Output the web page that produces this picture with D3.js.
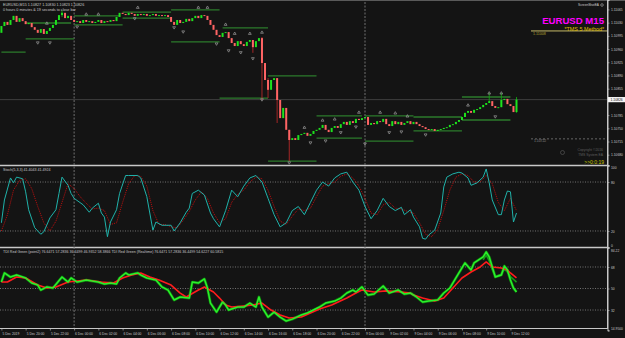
<!DOCTYPE html>
<html>
<head>
<meta charset="utf-8">
<script src="https://cdn.jsdelivr.net/npm/d3@7"></script>
<style>
  html, body { margin: 0; padding: 0; background: #141414; }
  svg { display: block; }
  text { font-family: 'Liberation Sans', Arial, sans-serif; }
</style>
</head>
<body>
<svg width="625" height="338"></svg>
<script>
// EURUSD M15, one close per bar, bar 0 = 5 Dec 18:00
const firstOpen = 1.11003
const closes = [
  1.11021, 1.11032, 1.11024, 1.11037, 1.11048, 1.11032, 1.11042, 1.11034, 1.11026, 1.11029,
  1.11018, 1.11011, 1.11003, 1.11013, 1.11000, 1.11008, 1.11016, 1.11024, 1.11037, 1.11050,
  1.11056, 1.11042, 1.11048, 1.11037, 1.11032, 1.11034, 1.11029, 1.11037, 1.11032, 1.11034,
  1.11029, 1.11032, 1.11037, 1.11029, 1.11034, 1.11032, 1.11037, 1.11034, 1.11045, 1.11056,
  1.11053, 1.11050, 1.11056, 1.11053, 1.11048, 1.11053, 1.11050, 1.11053, 1.11048, 1.11050,
  1.11053, 1.11048, 1.11050, 1.11048, 1.11050, 1.11045, 1.11032, 1.11024, 1.11037, 1.11029,
  1.11032, 1.11040, 1.11034, 1.11042, 1.11048, 1.11042, 1.11050, 1.11048, 1.11037, 1.11024,
  1.11011, 1.10997, 1.10992, 1.11003, 1.11005, 1.10989, 1.10976, 1.10968, 1.10981, 1.10973,
  1.10968, 1.10979, 1.10984, 1.10965, 1.10981, 1.10989, 1.10923, 1.10878, 1.10852, 1.10878,
  1.10883, 1.10825, 1.10777, 1.10804, 1.10746, 1.10719, 1.10724, 1.10719, 1.10732, 1.10735,
  1.10738, 1.10730, 1.10735, 1.10743, 1.10746, 1.10751, 1.10759, 1.10746, 1.10740, 1.10751,
  1.10756, 1.10751, 1.10761, 1.10767, 1.10759, 1.10769, 1.10764, 1.10775, 1.10772, 1.10777,
  1.10780, 1.10759, 1.10764, 1.10761, 1.10769, 1.10767, 1.10775, 1.10761, 1.10756, 1.10769,
  1.10761, 1.10767, 1.10759, 1.10764, 1.10769, 1.10761, 1.10767, 1.10761, 1.10756, 1.10753,
  1.10748, 1.10746, 1.10748, 1.10743, 1.10746, 1.10748, 1.10751, 1.10753, 1.10759, 1.10761,
  1.10767, 1.10772, 1.10780, 1.10791, 1.10796, 1.10791, 1.10799, 1.10801, 1.10806, 1.10812,
  1.10817, 1.10822, 1.10809, 1.10804, 1.10806, 1.10825, 1.10828, 1.10814, 1.10809, 1.10793,
  1.10826
]
// [bar, high, low] where the wick shows
const wicks = [
  [20, 1.11064, 1.11045], [83, 1.10976, 1.10950], [86, 1.10992, 1.10825], [88, 1.10883, 1.10830],
  [91, 1.10883, 1.10764], [95, 1.10746, 1.10663], [161, 1.10844, 1.10817], [165, 1.10844, 1.10806],
  [170, 1.10833, 1.10791]
]
// [fromBar, toBar, price]
const levels = [
  [0, 8, 1.10952], [8, 23, 1.11029], [8, 24, 1.10987], [24, 39, 1.11048], [24, 40, 1.11024],
  [40, 56, 1.11058], [40, 56, 1.11042], [56, 72, 1.11064], [56, 72, 1.10979], [73, 88, 1.11016],
  [72, 88, 1.10830], [88, 104, 1.10889], [88, 104, 1.10663], [104, 119, 1.10783], [104, 119, 1.10724],
  [120, 136, 1.10783], [120, 136, 1.10716], [136, 152, 1.10780], [136, 152, 1.10743],
  [152, 168, 1.10833], [152, 168, 1.10772]
]
const fractalUp = [
  [15, 1.11029], [28, 1.11053], [32, 1.11053], [45, 1.11071], [65, 1.11071], [68, 1.11071],
  [74, 1.11026], [77, 1.11002], [82, 1.11002], [86, 1.11005], [100, 1.10753], [106, 1.10772],
  [110, 1.10775], [118, 1.10793], [125, 1.10793], [130, 1.10791], [134, 1.10783], [154, 1.10812],
  [161, 1.10844], [165, 1.10844]
]
const fractalDown = [
  [12, 1.10976], [16, 1.10976], [25, 1.11018], [44, 1.11040], [57, 1.11016], [60, 1.11005],
  [71, 1.10973], [75, 1.10955], [79, 1.10950], [83, 1.10934], [86, 1.10825], [95, 1.10658],
  [102, 1.10711], [107, 1.10716], [112, 1.10738], [117, 1.10753], [120, 1.10708], [128, 1.10738],
  [132, 1.10740], [140, 1.10732], [163, 1.10780]
]
const priceTicks = [1.11065, 1.11030, 1.10995, 1.10960, 1.10925, 1.10890, 1.10855, 1.10785, 1.10750, 1.10715, 1.10680]
const bid = 1.10826

// [bar, value]
const stochMain = [
  [0, 30], [1, 58], [3, 85], [4, 79], [5, 86], [7, 84], [8, 68], [9, 46], [11, 24], [13, 16],
  [14, 19], [16, 36], [18, 46], [19, 66], [20, 86], [22, 76], [23, 66], [24, 60], [27, 52], [29, 43],
  [30, 48], [32, 54], [33, 42], [34, 37], [35, 13], [36, 31], [38, 46], [39, 66], [41, 88], [42, 88],
  [45, 88], [46, 85], [48, 62], [50, 21], [51, 31], [53, 27], [56, 27], [57, 20], [59, 30], [61, 43],
  [62, 48], [63, 66], [65, 70], [67, 64], [69, 42], [70, 35], [72, 25], [74, 45], [76, 70], [78, 62],
  [80, 75], [82, 85], [84, 88], [86, 80], [88, 60], [90, 40], [92, 25], [94, 30], [96, 45], [98, 50],
  [100, 40], [102, 55], [104, 70], [106, 80], [108, 75], [110, 85], [112, 90], [114, 92], [116, 80],
  [118, 70], [120, 50], [122, 35], [124, 45], [126, 60], [128, 50], [130, 45], [132, 49], [133, 40],
  [135, 46], [136, 37], [138, 25], [139, 11], [140, 10], [141, 15], [143, 21], [145, 42], [146, 74],
  [147, 86], [149, 90], [151, 92], [152, 91], [154, 85], [155, 76], [157, 79], [159, 86], [160, 96],
  [161, 79], [162, 58], [164, 40], [165, 40], [166, 58], [167, 69], [168, 68], [169, 31], [170, 42]
]
const stochSignal = [
  [0, 20], [2, 40], [4, 70], [6, 82], [8, 84], [10, 72], [12, 50], [14, 30], [16, 20], [18, 32],
  [20, 55], [22, 78], [24, 72], [26, 62], [28, 54], [30, 47], [32, 48], [34, 45], [36, 28], [38, 30],
  [40, 55], [42, 78], [44, 88], [46, 87], [48, 75], [50, 45], [52, 28], [54, 28], [56, 25], [58, 24],
  [60, 33], [62, 44], [64, 58], [66, 68], [68, 60], [70, 42], [72, 30], [74, 35], [76, 55], [78, 65],
  [80, 70], [82, 80], [84, 86], [86, 84], [88, 70], [90, 50], [92, 32], [94, 28], [96, 38], [98, 47],
  [100, 45], [102, 48], [104, 62], [106, 75], [108, 78], [110, 80], [112, 87], [114, 90], [116, 85],
  [118, 75], [120, 60], [122, 42], [124, 40], [126, 52], [128, 55], [130, 48], [132, 47], [134, 44],
  [136, 42], [138, 30], [140, 16], [142, 13], [144, 22], [146, 45], [148, 70], [150, 86], [152, 90],
  [154, 88], [156, 80], [158, 80], [160, 88], [162, 78], [164, 55], [166, 45], [168, 60], [170, 45]
]
const tdiGreen = [
  [0, 55.4], [1, 63], [3, 59.6], [5, 61.3], [8, 58.8], [10, 54.6], [12, 52.9], [13, 48.7], [15, 51.3],
  [17, 50.4], [20, 59.6], [22, 55.4], [23, 58.8], [25, 55.4], [28, 57.1], [32, 55.4], [34, 53.8],
  [36, 54.6], [38, 53.8], [39, 58.8], [41, 63], [42, 61.3], [45, 63], [46, 61.3], [48, 58.8], [51, 57.1],
  [53, 51.3], [55, 48.7], [57, 40.4], [59, 42.9], [62, 42], [63, 55.4], [65, 54.6], [67, 58], [68, 50.4],
  [69, 37.8], [71, 30.3], [73, 38.7], [74, 36.2], [75, 32], [78, 34.5], [80, 34.5], [82, 37.8], [84, 34.5],
  [85, 42.9], [86, 34.5], [88, 26.1], [90, 30.3], [92, 26.1], [94, 22.8], [96, 24.4], [99, 27.8],
  [101, 29.5], [103, 32], [105, 34.5], [107, 37.8], [110, 39.5], [112, 42], [114, 46.2], [116, 48.7],
  [117, 47.1], [119, 51.3], [121, 44.5], [123, 45.4], [126, 52.1], [128, 46.2], [129, 47.1], [131, 48.7],
  [133, 45.4], [135, 46.2], [137, 42.9], [139, 38.7], [141, 39.5], [144, 40.4], [146, 46.2], [148, 50.4],
  [150, 58.8], [152, 67.2], [153, 71.4], [155, 65.5], [156, 71.4], [159, 76.4], [160, 80.6], [161, 76.4],
  [162, 68], [163, 59.6], [165, 61.3], [166, 68.8], [167, 65.5], [168, 57.1], [169, 50.4], [170, 47.1]
]
const tdiRealtime = [
  [159, 74], [160, 78], [161, 73], [162, 66], [163, 60], [165, 62], [166, 66], [167, 64], [168, 60], [170, 55.4]
]
const tdiRed = [
  [0, 55.4], [2, 55.4], [5, 59.6], [8, 58.8], [12, 52.9], [15, 50.4], [18, 51.3], [22, 55.4], [28, 57.1],
  [33, 55.4], [37, 54.6], [40, 58.8], [43, 61.3], [46, 63], [49, 59.6], [52, 57.1], [56, 52.9], [59, 46.2],
  [61, 42.9], [65, 48.7], [67, 51.3], [70, 47.1], [72, 42], [74, 36.2], [76, 34.5], [80, 35.4], [83, 36.2],
  [86, 37.8], [89, 32], [92, 27.8], [95, 25.3], [99, 26.1], [102, 29.5], [105, 32.8], [109, 36.2],
  [114, 42], [117, 46.2], [119, 48.7], [123, 47.1], [127, 48], [132, 47.1], [135, 46.2], [136, 44.5],
  [139, 42], [143, 39.5], [146, 42], [149, 50.4], [152, 58.8], [155, 63.8], [158, 68], [160, 72.2],
  [162, 68], [165, 67.2], [167, 65.5], [168, 63], [170, 58.8]
]
const timeLabels = [
  '5 Dec 2019', '5 Dec 20:00', '5 Dec 22:00', '6 Dec 00:00', '6 Dec 02:00', '6 Dec 04:00',
  '6 Dec 06:00', '6 Dec 08:00', '6 Dec 10:00', '6 Dec 12:00', '6 Dec 14:00', '6 Dec 16:00',
  '6 Dec 18:00', '6 Dec 20:00', '6 Dec 22:00', '9 Dec 00:00', '9 Dec 02:00', '9 Dec 04:00',
  '9 Dec 06:00', '9 Dec 08:00', '9 Dec 10:00', '9 Dec 12:00'
]
const daySeparators = [24, 120]

;(function (d3) {
  'use strict'

  const svg = d3.select('svg')
  const axisX = 607.5
  const fg = '#c8c8c8'

  const x = d3.scaleLinear().domain([0, 200]).range([1.4, 607.4])
  const yPrice = d3.scaleLinear().domain([1.1065275, 1.1109]).range([165, 0])
  const yStoch = d3.scaleLinear().domain([0, 100]).range([247.3, 165.7])
  const yTdi = d3.scaleLinear().domain([14.95, 84.22]).range([330.4, 247.6])

  svg.append('rect').attr('width', 625).attr('height', 338).attr('fill', '#141414')

  const panels = [['clipMain', 2, 165], ['clipStoch', 166, 247], ['clipTdi', 248, 328.5]]
  const defs = svg.append('defs')
  panels.forEach(p => {
    defs.append('clipPath').attr('id', p[0]).
      append('rect').attr('x', 0).attr('y', p[1]).attr('width', axisX).attr('height', p[2] - p[1])
  })

  // frame
  svg.append('line').attr('x1', 0).attr('x2', 625).attr('y1', 0.5).attr('y2', 0.5).
    attr('stroke', '#5a5a5a')
  ;[165.5, 247.5].forEach(y => {
    svg.append('line').attr('x1', 0).attr('x2', axisX).attr('y1', y).attr('y2', y).
      attr('stroke', fg).attr('stroke-width', 1.5)
  })
  svg.append('line').attr('x1', 0).attr('x2', axisX).attr('y1', 328.5).attr('y2', 328.5).
    attr('stroke', fg)

  // day separators
  svg.selectAll('line.day').data(daySeparators).enter().append('line').
    attr('class', 'day').
    attr('x1', d => x(d)).attr('x2', d => x(d)).
    attr('y1', 2).attr('y2', 328).
    attr('stroke', '#7a7a7a').attr('stroke-dasharray', '2,1.5').attr('stroke-width', 0.9)

  // ---- price panel ----
  const gMain = svg.append('g').attr('clip-path', 'url(#clipMain)')

  gMain.append('line').
    attr('x1', 0).attr('x2', axisX).
    attr('y1', yPrice(bid)).attr('y2', yPrice(bid)).
    attr('stroke', '#4a4a4a').attr('stroke-width', 0.8)

  gMain.selectAll('line.level').data(levels).enter().append('line').
    attr('class', 'level').
    attr('x1', d => x(d[0])).attr('x2', d => x(d[1])).
    attr('y1', d => yPrice(d[2])).attr('y2', d => yPrice(d[2])).
    attr('stroke', '#2b7a2b').attr('stroke-width', 1.3)

  const candles = closes.map((c, i) => {
    const o = i === 0 ? firstOpen : closes[i - 1]
    const w = wicks.find(d => d[0] === i)
    return { i, o, c, h: w ? w[1] : Math.max(o, c), l: w ? w[2] : Math.min(o, c) }
  })

  gMain.selectAll('line.wick').data(candles.filter(d => d.h > Math.max(d.o, d.c) || d.l < Math.min(d.o, d.c))).
    enter().append('line').
    attr('class', 'wick').
    attr('x1', d => x(d.i)).attr('x2', d => x(d.i)).
    attr('y1', d => yPrice(d.h)).attr('y2', d => yPrice(d.l)).
    attr('stroke', d => d.c >= d.o ? '#129e12' : '#b42828').attr('stroke-width', 0.9)

  gMain.selectAll('rect.body').data(candles).enter().append('rect').
    attr('class', 'body').
    attr('x', d => x(d.i) - 1).
    attr('width', 2).
    attr('y', d => yPrice(Math.max(d.o, d.c))).
    attr('height', d => Math.max(1, Math.abs(yPrice(d.o) - yPrice(d.c)))).
    attr('fill', d => d.c >= d.o ? '#1de21d' : '#ff6464')

  const up = d => `M${x(d[0]) - 1.4},${yPrice(d[1]) + 1.2}L${x(d[0])},${yPrice(d[1]) - 1.2}L${x(d[0]) + 1.4},${yPrice(d[1]) + 1.2}Z`
  const down = d => `M${x(d[0]) - 1.4},${yPrice(d[1]) - 1.2}L${x(d[0])},${yPrice(d[1]) + 1.2}L${x(d[0]) + 1.4},${yPrice(d[1]) - 1.2}Z`
  gMain.selectAll('path.fup').data(fractalUp).enter().append('path').
    attr('d', up).attr('fill', 'none').attr('stroke', '#9a9a9a').attr('stroke-width', 0.7)
  gMain.selectAll('path.fdn').data(fractalDown).enter().append('path').
    attr('d', down).attr('fill', 'none').attr('stroke', '#9a9a9a').attr('stroke-width', 0.7)

  // right side annotations
  svg.append('line').attr('x1', 531).attr('x2', axisX).attr('y1', yPrice(1.11008)).attr('y2', yPrice(1.11008)).
    attr('stroke', '#d8cc70').attr('stroke-width', 0.9)
  svg.append('text').attr('x', 533).attr('y', yPrice(1.11008) + 4.5).text('1.11008').
    attr('fill', '#b8a830').attr('font-size', 3.6)
  svg.append('line').attr('x1', 531).attr('x2', axisX).attr('y1', yPrice(1.10722)).attr('y2', yPrice(1.10722)).
    attr('stroke', '#8a8a8a').attr('stroke-dasharray', '2,2').attr('stroke-width', 0.7)
  svg.append('text').attr('x', 534).attr('y', yPrice(1.10722) + 3.5).text('1.10722').
    attr('fill', '#8a8a8a').attr('font-size', 3.4)

  svg.append('text').attr('x', 604).attr('y', 23.5).attr('text-anchor', 'end').
    attr('fill', '#ff00ff').attr('font-size', 9.6).attr('font-weight', 'bold').text('EURUSD M15')
  svg.append('text').attr('x', 604).attr('y', 31).attr('text-anchor', 'end').
    attr('fill', '#e0c000').attr('font-size', 5.4).text('*TMS 5 Method*')
  svg.append('text').attr('x', 599).attr('y', 6).attr('text-anchor', 'end').
    attr('fill', '#d0d0d0').attr('font-size', 3.2).text('ScreenShotEA')
  svg.append('circle').attr('cx', 602).attr('cy', 5).attr('r', 1.3).attr('fill', 'none').
    attr('stroke', '#d0d0d0').attr('stroke-width', 0.5)

  svg.append('text').attr('x', 603).attr('y', 151).attr('text-anchor', 'end').
    attr('fill', '#5e5e5e').attr('font-size', 3.4).text('Copyright ©2016')
  svg.append('text').attr('x', 603).attr('y', 155.5).attr('text-anchor', 'end').
    attr('fill', '#5e5e5e').attr('font-size', 3.4).text('TMS System EA')
  svg.append('circle').attr('cx', 562.5).attr('cy', 152.5).attr('r', 2).attr('fill', 'none').
    attr('stroke', '#5e5e5e').attr('stroke-width', 0.6)
  svg.append('text').attr('x', 604).attr('y', 163.5).attr('text-anchor', 'end').
    attr('fill', '#c8c800').attr('font-size', 5).attr('font-family', 'DejaVu Sans Mono, monospace').text('>>0:0:19')

  svg.append('text').attr('x', 3).attr('y', 5.5).attr('fill', fg).attr('font-size', 3.7).
    text('EURUSD,M15  1.10827 1.10830 1.10823 1.10826')
  svg.append('text').attr('x', 3).attr('y', 11).attr('fill', fg).attr('font-size', 3.7).
    text('0 hours 0 minutes & 19 seconds to close bar')

  // price axis
  const priceAxis = d3.axisRight(yPrice).tickValues(priceTicks).tickSize(2).tickPadding(1.5).
    tickFormat(d3.format('.5f'))
  svg.append('g').attr('transform', `translate(${axisX},0)`).call(priceAxis)

  svg.append('rect').attr('x', axisX + 0.5).attr('y', yPrice(bid) - 2.6).attr('width', 17).attr('height', 5.2).
    attr('fill', '#f4f4f4')
  svg.append('text').attr('x', axisX + 3).attr('y', yPrice(bid) + 1.3).attr('fill', '#111').
    attr('font-size', 3.4).text(d3.format('.5f')(bid))

  // ---- stochastic panel ----
  const gStoch = svg.append('g').attr('clip-path', 'url(#clipStoch)')
  gStoch.selectAll('line.lvl').data([80, 20]).enter().append('line').
    attr('x1', 0).attr('x2', axisX).
    attr('y1', d => yStoch(d)).attr('y2', d => yStoch(d)).
    attr('stroke', '#8c8c8c').attr('stroke-dasharray', '1,1.5').attr('stroke-width', 0.8)

  const stochLine = d3.line().x(d => x(d[0])).y(d => yStoch(d[1]))
  gStoch.append('path').attr('d', stochLine(stochSignal)).attr('fill', 'none').
    attr('stroke', '#d01010').attr('stroke-width', 0.9).attr('stroke-dasharray', '1,1')
  gStoch.append('path').attr('d', stochLine(stochMain)).attr('fill', 'none').
    attr('stroke', '#20b2aa').attr('stroke-width', 1)

  svg.append('text').attr('x', 3).attr('y', 171).attr('fill', fg).attr('font-size', 3.6).
    text('Stoch(5,3,3) 41.4043 41.4924')

  const stochAxis = d3.axisRight(yStoch).tickValues([100, 80, 20, 0]).tickSize(2).tickPadding(1.5)
  const gStochAxis = svg.append('g').attr('transform', `translate(${axisX},0)`).call(stochAxis)
  gStochAxis.selectAll('.tick text').attr('dy', d => d === 0 ? '-0.3em' : d === 100 ? '0.9em' : '0.32em')

  // ---- TDI panel ----
  const gTdi = svg.append('g').attr('clip-path', 'url(#clipTdi)')
  gTdi.selectAll('line.lvl').data([68, 50, 32]).enter().append('line').
    attr('x1', 0).attr('x2', axisX).
    attr('y1', d => yTdi(d)).attr('y2', d => yTdi(d)).
    attr('stroke', '#8c8c8c').attr('stroke-dasharray', '1,1.5').attr('stroke-width', 0.8)

  const tdiLine = d3.line().x(d => x(d[0])).y(d => yTdi(d[1]))
  gTdi.append('path').attr('d', tdiLine(tdiGreen)).attr('fill', 'none').
    attr('stroke', '#0d7d0d').attr('stroke-width', 2.8).attr('stroke-linejoin', 'round')
  gTdi.append('path').attr('d', tdiLine(tdiRealtime)).attr('fill', 'none').
    attr('stroke', '#169c16').attr('stroke-width', 1.6)
  gTdi.append('path').attr('d', tdiLine(tdiRed)).attr('fill', 'none').
    attr('stroke', '#ff1c1c').attr('stroke-width', 1.6).attr('stroke-linejoin', 'round')
  gTdi.append('path').attr('d', tdiLine(tdiGreen)).attr('fill', 'none').
    attr('stroke', '#2cf02c').attr('stroke-width', 1.5).attr('stroke-linejoin', 'round')

  svg.append('text').attr('x', 3).attr('y', 252.5).attr('fill', fg).attr('font-size', 3.6).
    text('TDI Red Green (point2) 76.6471 57.2836 36.4499 46.9352 58.3866  TDI Red Green (Realtime) 76.6471 57.2836 36.4499 54.6227 60.5815')

  const tdiAxis = d3.axisRight(yTdi).tickValues([84.22, 68, 50, 32, 14.95]).tickSize(2).tickPadding(1.5).
    tickFormat(d => d === 84.22 ? '84.22' : d === 14.95 ? '14.9500' : d)
  const gTdiAxis = svg.append('g').attr('transform', `translate(${axisX},0)`).call(tdiAxis)
  gTdiAxis.selectAll('.tick text').attr('dy', d => d === 84.22 ? '1.1em' : d === 14.95 ? '-0.2em' : '0.32em')

  // right axis line
  svg.append('line').attr('x1', axisX).attr('x2', axisX).attr('y1', 0).attr('y2', 329).
    attr('stroke', fg)

  // time axis
  const timeAxis = d3.axisBottom(x).tickValues(timeLabels.map((t, i) => i * 8)).tickSize(2).
    tickFormat((d, i) => timeLabels[i])
  const gTime = svg.append('g').attr('transform', 'translate(0,328.5)').call(timeAxis)
  gTime.select('.domain').remove()
  gTime.selectAll('text').attr('text-anchor', 'start').attr('dx', 0.5).attr('dy', '0.5em')

  svg.selectAll('.tick text').attr('fill', fg).attr('font-size', 3.3).
    attr('font-family', "'Liberation Sans', Arial, sans-serif")
  svg.selectAll('.tick line').attr('stroke', fg).attr('stroke-width', 0.6)
  svg.selectAll('.domain').attr('stroke', fg)
}(d3))
</script>
</body>
</html>
